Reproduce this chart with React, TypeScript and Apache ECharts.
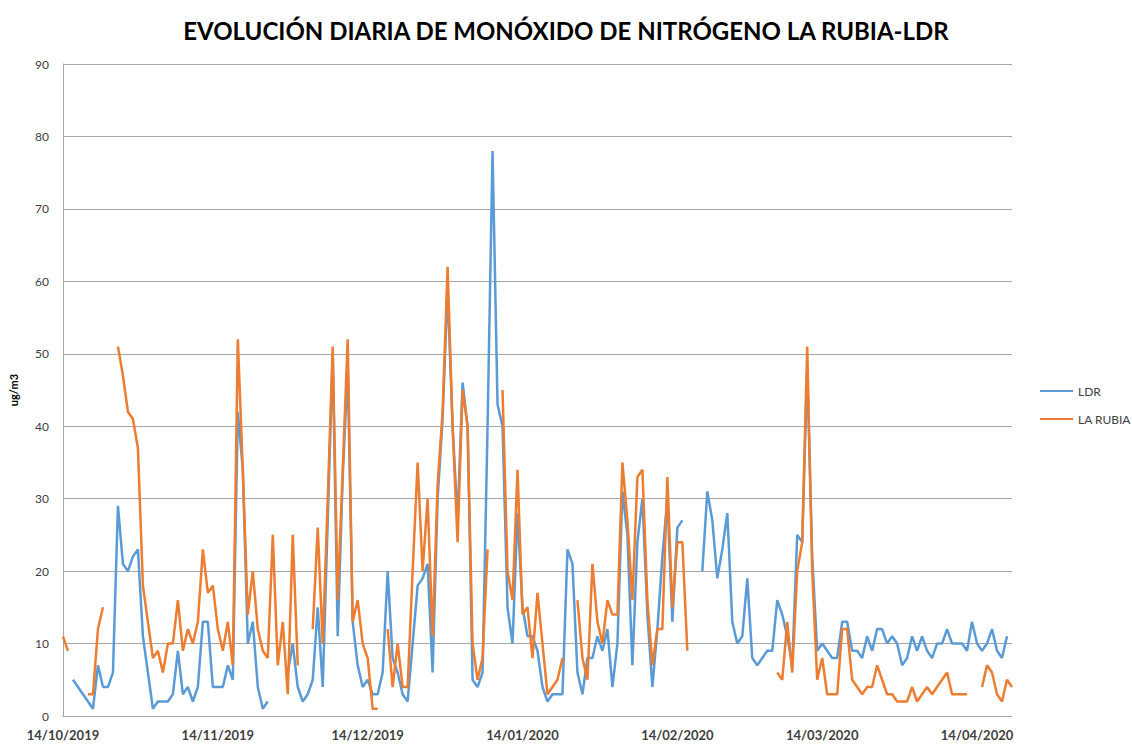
import React, { useEffect, useRef } from "react";
import * as echarts from "echarts";

const TITLE = "EVOLUCIÓN DIARIA DE MONÓXIDO DE NITRÓGENO LA RUBIA-LDR";
const START_DATE = [2019, 10, 14]; // first day of the series (14/10/2019)
const Y_TICKS = [0, 10, 20, 30, 40, 50, 60, 70, 80, 90];

// Daily values, one per day from 14/10/2019 to 21/04/2020 (null = no data)
const LDR: (number | null)[] = [
  null, null, 5, 4, 3, 2, 1, 7, 4, 4,
  6, 29, 21, 20, 22, 23, 11, 6, 1, 2,
  2, 2, 3, 9, 3, 4, 2, 4, 13, 13,
  4, 4, 4, 7, 5, 42, 34, 10, 13, 4,
  1, 2, null, null, null, 6, 10, 4, 2, 3,
  5, 15, 4, 27, 50, 11, 33, 48, 13, 7,
  4, 5, 3, 3, 6, 20, 8, 6, 3, 2,
  10, 18, 19, 21, 6, 30, 41, 59, 40, 27,
  46, 40, 5, 4, 6, 40, 78, 43, 40, 15,
  10, 28, 15, 11, 11, 9, 4, 2, 3, 3,
  3, 23, 21, 6, 3, 8, 8, 11, 9, 12,
  4, 10, 31, 25, 7, 24, 30, 14, 4, 12,
  22, 30, 13, 26, 27, null, null, null, 20, 31,
  27, 19, 23, 28, 13, 10, 11, 19, 8, 7,
  8, 9, 9, 16, 14, 11, 7, 25, 24, 48,
  22, 9, 10, 9, 8, 8, 13, 13, 9, 9,
  8, 11, 9, 12, 12, 10, 11, 10, 7, 8,
  11, 9, 11, 9, 8, 10, 10, 12, 10, 10,
  10, 9, 13, 10, 9, 10, 12, 9, 8, 11,
  null,
];

const LA_RUBIA: (number | null)[] = [
  11, 9, null, null, null, 3, 3, 12, 15, null,
  null, 51, 47, 42, 41, 37, 18, 13, 8, 9,
  6, 10, 10, 16, 9, 12, 10, 13, 23, 17,
  18, 12, 9, 13, 7, 52, 34, 14, 20, 12,
  9, 8, 25, 7, 13, 3, 25, 7, null, null,
  12, 26, 10, 30, 51, 16, 34, 52, 13, 16,
  10, 8, 1, 1, null, 12, 4, 10, 4, 4,
  20, 35, 20, 30, 11, 32, 42, 62, 40, 24,
  45, 40, 10, 5, 8, 23, null, null, 45, 20,
  16, 34, 14, 15, 8, 17, 10, 3, 4, 5,
  8, null, null, 16, 8, 5, 21, 13, 10, 16,
  14, 14, 35, 27, 16, 33, 34, 16, 7, 12,
  12, 33, 15, 24, 24, 9, null, null, null, null,
  null, null, null, null, null, null, null, null, null, null,
  null, null, null, 6, 5, 13, 6, 20, 24, 51,
  20, 5, 8, 3, 3, 3, 12, 12, 5, 4,
  3, 4, 4, 7, 5, 3, 3, 2, 2, 2,
  4, 2, 3, 4, 3, 4, 5, 6, 3, 3,
  3, 3, null, null, 4, 7, 6, 3, 2, 5,
  4,
];

function buildDates(n: number): string[] {
  const out: string[] = [];
  const d = new Date(START_DATE[0], START_DATE[1] - 1, START_DATE[2]);
  for (let i = 0; i < n; i++) {
    const dd = String(d.getDate()).padStart(2, "0");
    const mm = String(d.getMonth() + 1).padStart(2, "0");
    out.push(`${dd}/${mm}/${d.getFullYear()}`);
    d.setDate(d.getDate() + 1);
  }
  return out;
}

const DATES = buildDates(Math.max(LDR.length, LA_RUBIA.length));

export default function App() {
  const ref = useRef<HTMLDivElement>(null);
  useEffect(() => {
    if (!ref.current) return;
    const chart = echarts.init(ref.current, undefined, { renderer: "svg" });
    chart.setOption({
      animation: false,
      backgroundColor: "#ffffff",
      title: {
        text: TITLE,
        left: "center",
        top: 13,
        textStyle: {
          fontFamily: "Lato",
          fontWeight: "bold",
          fontSize: 24,
          color: "#000000",
        },
      },
      legend: {
        orient: "vertical",
        left: 1035,
        top: 380,
        itemWidth: 33,
        itemHeight: 2,
        itemGap: 16,
        icon: "rect",
        textStyle: { fontFamily: "Lato", fontSize: 12, color: "#404040" },
        data: ["LDR", "LA RUBIA"],
      },
      grid: { left: 60, right: 120, top: 64, bottom: 30, containLabel: false },
      xAxis: {
        type: "category",
        data: DATES,
        boundaryGap: false,
        axisLine: { lineStyle: { color: "#a6a6a6", width: 1 } },
        axisTick: { show: false },
        axisLabel: {
          interval: (_i: number, v: string) => v.startsWith("14/"),
          fontFamily: "Lato",
          fontSize: 13,
          fontWeight: "bold",
          color: "#404040",
          margin: 12,
        },
        splitLine: { show: false },
      },
      yAxis: {
        type: "value",
        min: Y_TICKS[0],
        max: Y_TICKS[Y_TICKS.length - 1],
        interval: 10,
        name: "ug/m3",
        nameLocation: "middle",
        nameRotate: 90,
        nameGap: 44,
        nameTextStyle: {
          fontFamily: "Lato",
          fontWeight: "bold",
          fontSize: 11,
          color: "#000000",
        },
        axisLine: { show: true, lineStyle: { color: "#a6a6a6", width: 1 } },
        axisTick: { show: false },
        axisLabel: {
          fontFamily: "Lato",
          fontSize: 12,
          color: "#404040",
          margin: 14,
        },
        splitLine: { lineStyle: { color: "#a6a6a6", width: 1 } },
      },
      series: [
        {
          name: "LDR",
          type: "line",
          data: LDR,
          showSymbol: false,
          symbol: "none",
          connectNulls: false,
          lineStyle: { color: "#5b9bd5", width: 2.5 },
          itemStyle: { color: "#5b9bd5" },
        },
        {
          name: "LA RUBIA",
          type: "line",
          data: LA_RUBIA,
          showSymbol: false,
          symbol: "none",
          connectNulls: false,
          lineStyle: { color: "#ed7d31", width: 2.5 },
          itemStyle: { color: "#ed7d31" },
        },
      ],
    });
    return () => chart.dispose();
  }, []);
  return (
    <div
      ref={ref}
      style={{ position: "fixed", left: 0, top: 0, width: 1132, height: 746 }}
    />
  );
}
